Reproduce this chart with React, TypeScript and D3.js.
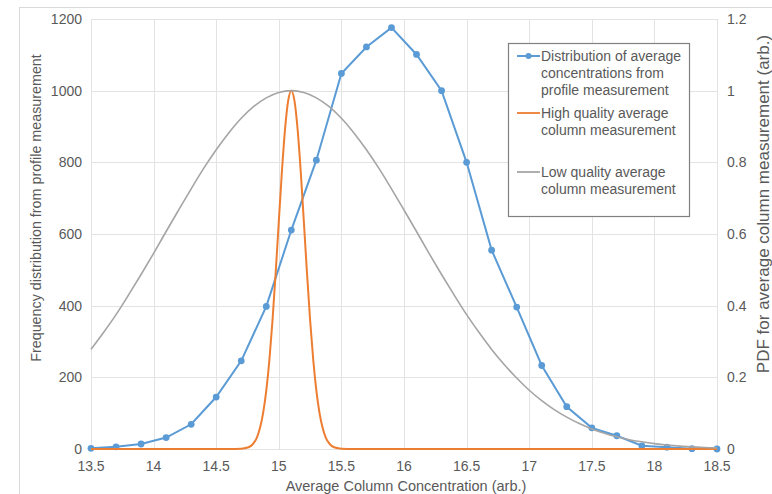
import { useRef, useEffect } from 'react'
import * as d3 from 'd3'

// Frequency distribution of average concentrations (profile measurement), left axis
const profileX = [13.5, 13.7, 13.9, 14.1, 14.3, 14.5, 14.7, 14.9, 15.1, 15.3, 15.5, 15.7, 15.9, 16.1, 16.3, 16.5, 16.7, 16.9, 17.1, 17.3, 17.5, 17.7, 17.9, 18.1, 18.3, 18.5]
const profileCounts = [2, 6, 14, 32, 69, 145, 246, 398, 611, 806, 1048, 1122, 1176, 1101, 1000, 800, 555, 396, 233, 118, 59, 37, 9, 5, 1, 0]

// High quality column measurement PDF, right axis
const highX = [13.5, 14.6, 14.7, 14.725, 14.75, 14.775, 14.8, 14.825, 14.85, 14.875, 14.9, 14.925, 14.95, 14.975, 15.0, 15.025, 15.05, 15.075, 15.1, 15.125, 15.15, 15.175, 15.2, 15.225, 15.25, 15.275, 15.3, 15.325, 15.35, 15.375, 15.4, 15.425, 15.45, 15.475, 15.5, 15.6, 18.5]
const highPdf = [0, 0, 0.001, 0.002, 0.004, 0.008, 0.017, 0.032, 0.059, 0.101, 0.163, 0.249, 0.36, 0.492, 0.635, 0.775, 0.893, 0.972, 1, 0.972, 0.893, 0.775, 0.635, 0.492, 0.36, 0.249, 0.163, 0.101, 0.059, 0.032, 0.017, 0.008, 0.004, 0.002, 0.001, 0, 0]

// Low quality column measurement PDF, right axis
const lowX = [13.5, 13.6, 13.7, 13.8, 13.9, 14.0, 14.1, 14.2, 14.3, 14.4, 14.5, 14.6, 14.7, 14.8, 14.9, 15.0, 15.1, 15.2, 15.3, 15.4, 15.5, 15.6, 15.7, 15.8, 15.9, 16.0, 16.1, 16.2, 16.3, 16.4, 16.5, 16.6, 16.7, 16.8, 16.9, 17.0, 17.1, 17.2, 17.3, 17.4, 17.5, 17.6, 17.7, 17.8, 17.9, 18.0, 18.1, 18.2, 18.3, 18.4, 18.5]
const lowPdf = [0.278, 0.325, 0.375, 0.43, 0.487, 0.546, 0.607, 0.667, 0.726, 0.783, 0.835, 0.882, 0.923, 0.956, 0.98, 0.995, 1, 0.995, 0.98, 0.956, 0.923, 0.882, 0.835, 0.783, 0.726, 0.667, 0.607, 0.546, 0.487, 0.43, 0.375, 0.325, 0.278, 0.236, 0.198, 0.164, 0.135, 0.11, 0.089, 0.071, 0.056, 0.044, 0.034, 0.026, 0.02, 0.015, 0.011, 0.008, 0.006, 0.004, 0.003]

const xTicks = [13.5, 14, 14.5, 15, 15.5, 16, 16.5, 17, 17.5, 18, 18.5]
const leftTicks = [0, 200, 400, 600, 800, 1000, 1200]
const rightTicks = [0, 0.2, 0.4, 0.6, 0.8, 1, 1.2]

const legendItems = [
  { color: '#5B9BD5', marker: true, lines: ['Distribution of average', 'concentrations from', 'profile measurement'], y: 56 },
  { color: '#ED7D31', marker: false, lines: ['High quality average', 'column measurement'], y: 113 },
  { color: '#A5A5A5', marker: false, lines: ['Low quality average', 'column measurement'], y: 172 },
]

const W = 772
const H = 494
const FONT = '"Liberation Sans", Arial, sans-serif'
const TEXT = '#595959'

export default function App() {
  const svgRef = useRef<SVGSVGElement>(null)

  useEffect(() => {
    if (!svgRef.current) return
    const svg = d3.select(svgRef.current)
    svg.selectAll('*').remove()

    const margin = { left: 91, right: 55, top: 19, bottom: 45 }

    // chart area border
    svg.append('rect')
      .attr('x', 19.5).attr('y', 7.5)
      .attr('width', W).attr('height', H)
      .attr('fill', '#fff').attr('stroke', '#d9d9d9')

    const x = d3.scaleLinear().domain([13.5, 18.5]).range([margin.left, W - margin.right])
    const yL = d3.scaleLinear().domain([0, 1200]).range([H - margin.bottom, margin.top])
    const yR = d3.scaleLinear().domain([0, 1.2]).range([H - margin.bottom, margin.top])

    // Gridlines
    const grid = svg.append('g').attr('stroke', '#e3e3e3').attr('stroke-width', 1)
    grid.selectAll('.hg').data(leftTicks).join('line')
      .attr('x1', x(13.5)).attr('x2', x(18.5))
      .attr('y1', (d) => Math.round(yL(d)) + 0.5).attr('y2', (d) => Math.round(yL(d)) + 0.5)
    grid.selectAll('.vg').data(xTicks).join('line')
      .attr('x1', (d) => Math.round(x(d)) + 0.5).attr('x2', (d) => Math.round(x(d)) + 0.5)
      .attr('y1', yL(1200)).attr('y2', yL(0))

    // Axis labels
    svg.append('g').selectAll('text').data(leftTicks).join('text')
      .attr('x', x(13.5) - 9).attr('y', (d) => yL(d) + 5)
      .attr('text-anchor', 'end').attr('fill', TEXT)
      .attr('font-family', FONT).attr('font-size', 14)
      .text((d) => d)

    svg.append('g').selectAll('text').data(rightTicks).join('text')
      .attr('x', x(18.5) + 10).attr('y', (d) => yR(d) + 5)
      .attr('text-anchor', 'start').attr('fill', TEXT)
      .attr('font-family', FONT).attr('font-size', 14)
      .text((d) => d)

    svg.append('g').selectAll('text').data(xTicks).join('text')
      .attr('x', (d) => x(d)).attr('y', yL(0) + 22)
      .attr('text-anchor', 'middle').attr('fill', TEXT)
      .attr('font-family', FONT).attr('font-size', 14)
      .text((d) => d)

    // Axis titles
    svg.append('text')
      .attr('x', (x(13.5) + x(18.5)) / 2 + 2).attr('y', 491)
      .attr('text-anchor', 'middle').attr('fill', TEXT)
      .attr('font-family', FONT).attr('font-size', 14.5)
      .text('Average Column Concentration (arb.)')

    svg.append('text')
      .attr('transform', 'translate(41,208) rotate(-90)')
      .attr('text-anchor', 'middle').attr('fill', TEXT)
      .attr('font-family', FONT).attr('font-size', 14.3)
      .text('Frequency distribution from profile measurement')

    svg.append('text')
      .attr('transform', 'translate(769,204) rotate(-90)')
      .attr('text-anchor', 'middle').attr('fill', TEXT)
      .attr('font-family', FONT).attr('font-size', 17)
      .text('PDF for average column measurement (arb.)')

    // Profile distribution (line + markers)
    const profile = profileX.map((v, i) => [v, profileCounts[i]] as [number, number])
    const lineL = d3.line<[number, number]>().x((d) => x(d[0])).y((d) => yL(d[1]))
    svg.append('path').datum(profile)
      .attr('d', lineL).attr('fill', 'none')
      .attr('stroke', '#5B9BD5').attr('stroke-width', 2)
    svg.append('g').selectAll('circle').data(profile).join('circle')
      .attr('cx', (d) => x(d[0])).attr('cy', (d) => yL(d[1]))
      .attr('r', 3.4).attr('fill', '#5B9BD5')

    // PDFs on secondary axis
    const lineR = d3.line<[number, number]>().x((d) => x(d[0])).y((d) => yR(d[1])).curve(d3.curveMonotoneX)
    svg.append('path').datum(highX.map((v, i) => [v, highPdf[i]] as [number, number]))
      .attr('d', lineR).attr('fill', 'none')
      .attr('stroke', '#ED7D31').attr('stroke-width', 2)
    svg.append('path').datum(lowX.map((v, i) => [v, lowPdf[i]] as [number, number]))
      .attr('d', lineR).attr('fill', 'none')
      .attr('stroke', '#A5A5A5').attr('stroke-width', 1.6)

    // Legend
    const lg = svg.append('g')
    lg.append('rect')
      .attr('x', 508.5).attr('y', 43.5).attr('width', 181).attr('height', 173)
      .attr('fill', '#fff').attr('stroke', '#808080').attr('stroke-width', 1.2)
    legendItems.forEach((item) => {
      lg.append('line')
        .attr('x1', 517).attr('x2', 540).attr('y1', item.y).attr('y2', item.y)
        .attr('stroke', item.color).attr('stroke-width', item.marker ? 2 : 1.8)
      if (item.marker) {
        lg.append('circle').attr('cx', 528.5).attr('cy', item.y).attr('r', 3).attr('fill', item.color)
      }
      item.lines.forEach((t, j) => {
        lg.append('text')
          .attr('x', 541).attr('y', item.y + j * 17 + 5)
          .attr('fill', TEXT).attr('font-family', FONT).attr('font-size', 14)
          .text(t)
      })
    })
  }, [])

  return (
    <svg
      ref={svgRef}
      width={W}
      height={H}
      style={{ position: 'absolute', left: 0, top: 0, background: '#fff' }}
    />
  )
}
